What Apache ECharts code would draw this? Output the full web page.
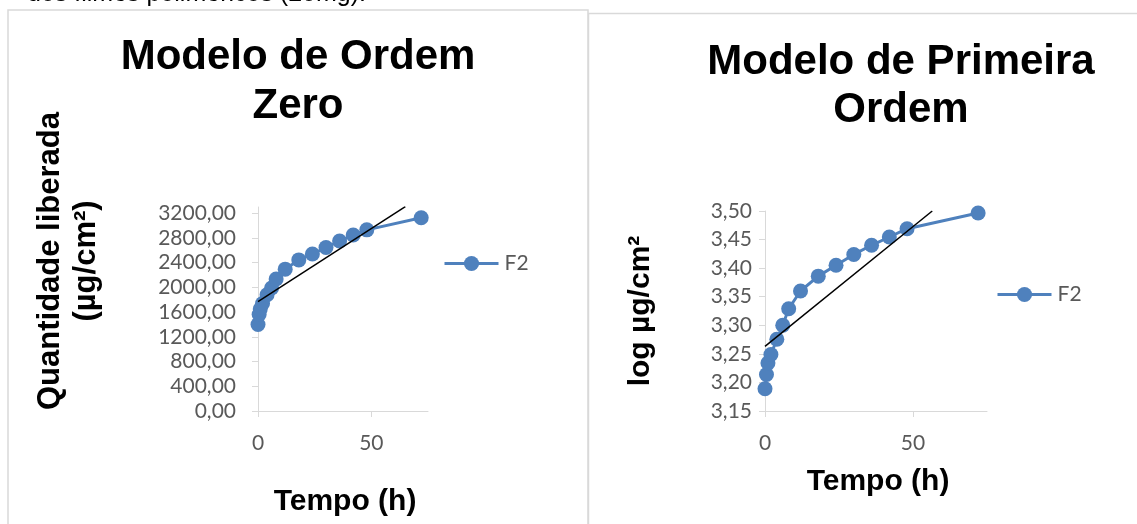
<!DOCTYPE html>
<html>
<head>
<meta charset="UTF-8">
<title>Modelos de liberação - F2</title>
<script src="https://cdn.jsdelivr.net/npm/echarts@6/dist/echarts.min.js"></script>
</head>
<body style="margin:0;padding:0;background:#fff;">
<div id="main" style="width:1137px;height:524px;"></div>
<script>
// tempos de coleta (h)
var tempoH = [0, 0.5, 1, 2, 4, 6, 8, 12, 18, 24, 30, 36, 42, 48, 72];
// quantidade liberada (ug/cm2) - modelo de ordem zero
var qtdF2 = [1400, 1560, 1650, 1740, 1880, 1990, 2135, 2295, 2444, 2540, 2645, 2750, 2846, 2930, 3125];
// log da quantidade liberada - modelo de primeira ordem
var logF2 = [3.189, 3.214, 3.234, 3.249, 3.2755, 3.300, 3.329, 3.360, 3.386, 3.405, 3.424, 3.440, 3.4545, 3.469, 3.4965];
// retas (preto) dos dois graficos: [t inicial, t final] e valores
var retaZeroT = [0, 65];
var retaZeroV = [1770, 3305];
var retaPrimT = [0, 56.5];
var retaPrimV = [3.263, 3.50];
// marcas dos eixos
var ticksZero = [0, 400, 800, 1200, 1600, 2000, 2400, 2800, 3200];
var ticksX = [0, 50];

function pares(xs, ys) {
	var out = [];
	for (var i = 0; i < xs.length; i++) out.push([xs[i], ys[i]]);
	return out;
}
function virgula(v) {
	return v.toFixed(2).replace('.', ',');
}

var azul = '#4F81BD';
var cinza = '#D9D9D9';
var fonteEixo = { color: '#595959', fontSize: 21, fontFamily: 'Lato' };
var fonteNegrito = 'Liberation Sans';

var chart = echarts.init(document.getElementById('main'));

var eixoX = function (idx) {
	return {
		type: 'value', gridIndex: idx, min: 0, max: 75, interval: 50,
		axisLine: { lineStyle: { color: cinza, width: 1 } },
		axisTick: { show: true, length: 6, lineStyle: { color: cinza }, customValues: ticksX },
		axisLabel: Object.assign({ margin: 22, customValues: ticksX }, fonteEixo),
		splitLine: { show: false }
	};
};

var legenda = function (x, y) {
	return {
		left: x, top: y, padding: 0, data: ['F2'], itemWidth: 54, itemHeight: 19,
		lineStyle: { width: 3 },
		textStyle: { color: '#595959', fontSize: 21, fontFamily: 'Lato', padding: [0, 0, 0, 1] },
		selectedMode: false
	};
};

var option = {
	animation: false,
	backgroundColor: '#fff',
	grid: [
		{ left: 258, top: 207, width: 170, height: 204 },
		{ left: 765, top: 211, width: 222, height: 200 }
	],
	xAxis: [eixoX(0), eixoX(1)],
	yAxis: [
		{
			type: 'value', gridIndex: 0, min: 0, max: 3300, interval: 400,
			axisLine: { show: true, lineStyle: { color: cinza, width: 1 } },
			axisTick: { show: true, length: 6, lineStyle: { color: cinza }, customValues: ticksZero },
			axisLabel: Object.assign({ margin: 22, formatter: virgula, customValues: ticksZero }, fonteEixo),
			splitLine: { show: false }
		},
		{
			type: 'value', gridIndex: 1, min: 3.15, max: 3.5, interval: 0.05,
			axisLine: { show: true, lineStyle: { color: cinza, width: 1 } },
			axisTick: { show: true, length: 6, lineStyle: { color: cinza } },
			axisLabel: Object.assign({ margin: 13, formatter: virgula }, fonteEixo),
			splitLine: { show: false }
		}
	],
	legend: [legenda(443, 253), legenda(996, 284)],
	series: [
		{
			name: 'F2', type: 'line', xAxisIndex: 0, yAxisIndex: 0,
			data: pares(tempoH, qtdF2), symbol: 'circle', symbolSize: 15,
			itemStyle: { color: azul }, lineStyle: { color: azul, width: 3 }
		},
		{
			name: 'Linear (F2)', type: 'line', xAxisIndex: 0, yAxisIndex: 0,
			data: pares(retaZeroT, retaZeroV), symbol: 'none', z: 5,
			lineStyle: { color: '#000', width: 1.5 }
		},
		{
			name: 'F2', type: 'line', xAxisIndex: 1, yAxisIndex: 1,
			data: pares(tempoH, logF2), symbol: 'circle', symbolSize: 15,
			itemStyle: { color: azul }, lineStyle: { color: azul, width: 3 }
		},
		{
			name: 'Linear (F2) log', type: 'line', xAxisIndex: 1, yAxisIndex: 1,
			data: pares(retaPrimT, retaPrimV), symbol: 'none', z: 5,
			lineStyle: { color: '#000', width: 1.5 }
		}
	],
	graphic: [
		// molduras das duas figuras
		{ type: 'rect', shape: { x: 8, y: 10, width: 580, height: 600 }, style: { fill: 'none', stroke: cinza, lineWidth: 1.5 }, z: -1 },
		{ type: 'rect', shape: { x: 588.5, y: 13.5, width: 600, height: 600 }, style: { fill: 'none', stroke: cinza, lineWidth: 1.5 }, z: -1 },
		// linha de texto cortada acima
		{ type: 'text', x: 27, y: -6, style: { text: 'dos filmes poliméricos (20mg).', fontSize: 25, fontFamily: 'Liberation Sans', fill: '#000', verticalAlign: 'middle' } },
		// titulos
		{ type: 'text', x: 298, y: 82, style: { text: 'Modelo de Ordem\nZero', fontSize: 42, lineHeight: 49, fontWeight: 'bold', fontFamily: fonteNegrito, fill: '#000', align: 'center', verticalAlign: 'middle' } },
		{ type: 'text', x: 901, y: 86, style: { text: 'Modelo de Primeira\nOrdem', fontSize: 42, lineHeight: 48, fontWeight: 'bold', fontFamily: fonteNegrito, fill: '#000', align: 'center', verticalAlign: 'middle' } },
		// nomes dos eixos
		{ type: 'text', x: 345, y: 502, style: { text: 'Tempo (h)', fontSize: 30, fontWeight: 'bold', fontFamily: fonteNegrito, fill: '#000', align: 'center', verticalAlign: 'middle' } },
		{ type: 'text', x: 878, y: 482, style: { text: 'Tempo (h)', fontSize: 30, fontWeight: 'bold', fontFamily: fonteNegrito, fill: '#000', align: 'center', verticalAlign: 'middle' } },
		{ type: 'text', x: 68, y: 261, rotation: Math.PI / 2, style: { text: 'Quantidade liberada\n(µg/cm²)', fontSize: 31, lineHeight: 36, fontWeight: 'bold', fontFamily: fonteNegrito, fill: '#000', align: 'center', verticalAlign: 'middle' } },
		{ type: 'text', x: 641, y: 311, rotation: Math.PI / 2, style: { text: 'log µg/cm²', fontSize: 30, fontWeight: 'bold', fontFamily: fonteNegrito, fill: '#000', align: 'center', verticalAlign: 'middle' } }
	]
};

chart.setOption(option);
</script>
</body>
</html>
